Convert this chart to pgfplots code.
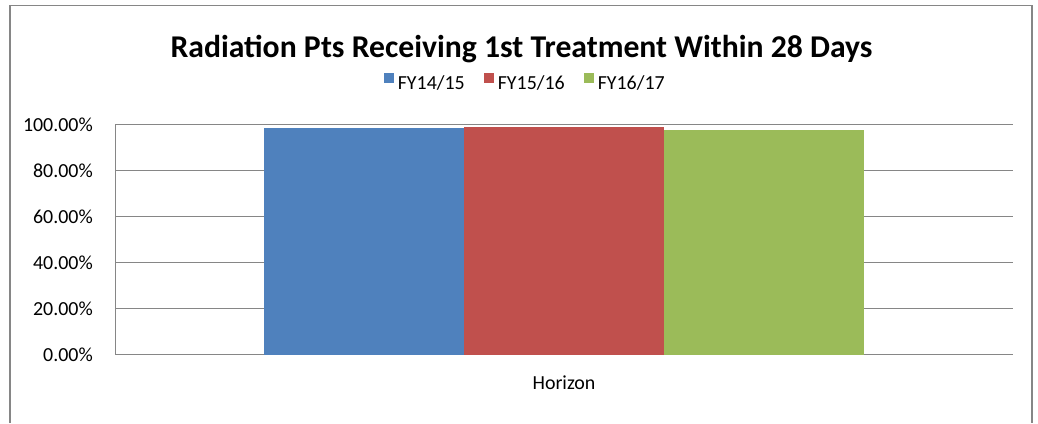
\documentclass[border=0pt]{standalone}
\usepackage{pgfplots}
\pgfplotsset{compat=1.18}
\usepackage{fontspec}
\setmainfont{Carlito}
\definecolor{xblue}{HTML}{4F81BD}
\definecolor{xred}{HTML}{C0504D}
\definecolor{xgreen}{HTML}{9BBB59}
\definecolor{xgray}{HTML}{868686}
\begin{document}
\begin{tikzpicture}[x=1bp,y=1bp]
\useasboundingbox (0,0) rectangle (1038,423);
\draw[color=xgray, line width=1.5bp] (10,0) -- (10,417.5) -- (1032,417.5) -- (1032,0);
\node[anchor=base, inner sep=0pt, font=\fontsize{31.8}{36}\selectfont\bfseries] at (521.5,366) {Radiation Pts Receiving 1st Treatment Within 28 Days};
\begin{axis}[
  at={(115bp,68.3bp)}, anchor=south west,
  scale only axis, width=898bp, height=230.4bp,
  xmin=-2.245, xmax=2.245, ymin=0, ymax=100,
  axis x line*=bottom, axis y line*=left,
  axis line style={color=xgray, line width=1bp},
  ymajorgrids, grid style={color=xgray, line width=1bp},
  major tick length=0pt,
  xtick={0}, xticklabels={Horizon},
  ytick={0,20,40,60,80,100},
  /pgf/number format/assume math mode=true,
  yticklabel={\pgfmathprintnumber[fixed,fixed zerofill,precision=2]{\tick}\%},
  ticklabel style={font=\fontsize{20}{24}\selectfont},
  yticklabel style={anchor=east, inner sep=0pt, xshift=-22bp},
  xticklabel style={anchor=base, inner sep=0pt, yshift=-34.3bp},
  legend columns=3,
  legend style={at={(axis description cs:0.458,1.1836)}, anchor=center, draw=none, fill=none,
    font=\fontsize{20}{24}\selectfont, nodes={inner xsep=3.5bp, inner ysep=0pt},
    /tikz/every even column/.append style={column sep=16bp}},
  legend image code/.code={\fill[#1] (0bp,0bp) rectangle (10bp,10bp);},
]
\addplot[ybar, bar width=1, bar shift=0pt, fill=xblue, draw=none] coordinates {(-1,98.4)};
\addplot[ybar, bar width=1, bar shift=0pt, fill=xred, draw=none] coordinates {(0,98.8)};
\addplot[ybar, bar width=1, bar shift=0pt, fill=xgreen, draw=none] coordinates {(1,97.5)};
\legend{FY14/15,FY15/16,FY16/17}
\end{axis}
\end{tikzpicture}
\end{document}
